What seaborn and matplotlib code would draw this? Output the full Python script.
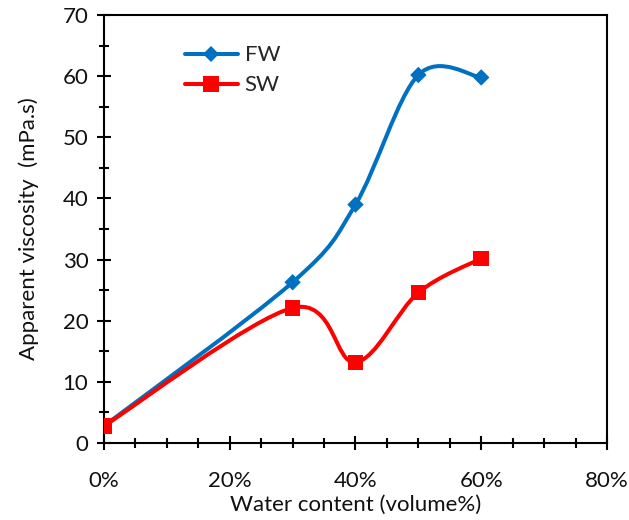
import numpy as np
import matplotlib
matplotlib.use("Agg")
import matplotlib.pyplot as plt
from matplotlib.path import Path
from matplotlib.patches import PathPatch
from matplotlib.lines import Line2D
from matplotlib.ticker import MultipleLocator, PercentFormatter
import seaborn as sns
import pandas as pd

# Measured data
water_content = [0.0, 0.30, 0.40, 0.50, 0.60]
fw_viscosity = [2.8, 26.3, 39.0, 60.2, 59.8]
sw_viscosity = [2.8, 22.1, 13.2, 24.6, 30.2]
series_names = ["FW", "SW"]
series_colors = ["#0070C0", "#FF0000"]
series_markers = ["D", "s"]
marker_areas = [70, 125]

sns.set_theme(style="white")
plt.rcParams["font.family"] = ["Lato", "DejaVu Sans"]

FS = 16
TEXT = "#111111"

fig = plt.figure(figsize=(6.29, 5.2), dpi=100)
ax = fig.add_axes([0.1653, 0.148, 0.7997, 0.823])


def smooth_path(xs, ys):
    """Cubic Bezier path through the points (Catmull-Rom style tangents)."""
    pts = np.column_stack([xs, ys]).astype(float)
    n = len(pts)
    verts = [pts[0]]
    codes = [Path.MOVETO]
    for i in range(n - 1):
        p_prev = pts[i - 1] if i > 0 else pts[i]
        p0, p1 = pts[i], pts[i + 1]
        p_next = pts[i + 2] if i + 2 < n else pts[i + 1]
        c1 = p0 + (p1 - p_prev) / 6.0
        c2 = p1 - (p_next - p0) / 6.0
        verts += [c1, c2, p1]
        codes += [Path.CURVE4] * 3
    return Path(verts, codes)


df = pd.DataFrame({
    "water": water_content * 2,
    "viscosity": fw_viscosity + sw_viscosity,
    "series": [series_names[0]] * len(water_content) + [series_names[1]] * len(water_content),
})

for name, color, marker, area in zip(series_names, series_colors, series_markers, marker_areas):
    sub = df[df["series"] == name]
    ax.add_patch(PathPatch(smooth_path(sub["water"], sub["viscosity"]),
                           facecolor="none", edgecolor=color, lw=2.9,
                           capstyle="round", joinstyle="round", zorder=2))
    sns.scatterplot(data=sub, x="water", y="viscosity", color=color, marker=marker,
                    s=area, edgecolor="none", linewidth=0, ax=ax, legend=False,
                    zorder=3)

ax.set_xlim(0, 0.8)
ax.set_ylim(0, 70)
ax.xaxis.set_major_locator(MultipleLocator(0.2))
ax.xaxis.set_minor_locator(MultipleLocator(0.05))
ax.xaxis.set_major_formatter(PercentFormatter(xmax=1, decimals=0))
ax.yaxis.set_major_locator(MultipleLocator(10))
ax.yaxis.set_minor_locator(MultipleLocator(5))

for side in ["left", "bottom", "right", "top"]:
    ax.spines[side].set_color("black")
    ax.spines[side].set_linewidth(1.5)

ax.tick_params(axis="both", which="major", direction="inout", length=10.5,
               width=1.5, color="black", labelsize=FS, labelcolor=TEXT,
               left=True, bottom=True)
ax.tick_params(axis="both", which="minor", direction="inout", length=7.5,
               width=1.5, color="black", left=True, bottom=True)
ax.tick_params(axis="x", which="major", pad=15)
ax.tick_params(axis="y", which="major", pad=6)

ax.set_xlabel("Water content (volume%)", fontsize=FS, color=TEXT, labelpad=3)
ax.set_ylabel("Apparent viscosity  (mPa.s)", fontsize=FS, color=TEXT, labelpad=17)

handles = [Line2D([], [], color=c, lw=2.9, marker=m,
                  markersize=8.5 if m == "D" else 11, markeredgewidth=0)
           for c, m in zip(series_colors, series_markers)]
ax.legend(handles, series_names, loc="upper left", bbox_to_anchor=(0.143, 0.95),
          frameon=False, fontsize=FS, handlelength=2.4, handletextpad=0.3,
          labelspacing=0.45, borderaxespad=0)

fig.savefig("out.png", dpi=100)
